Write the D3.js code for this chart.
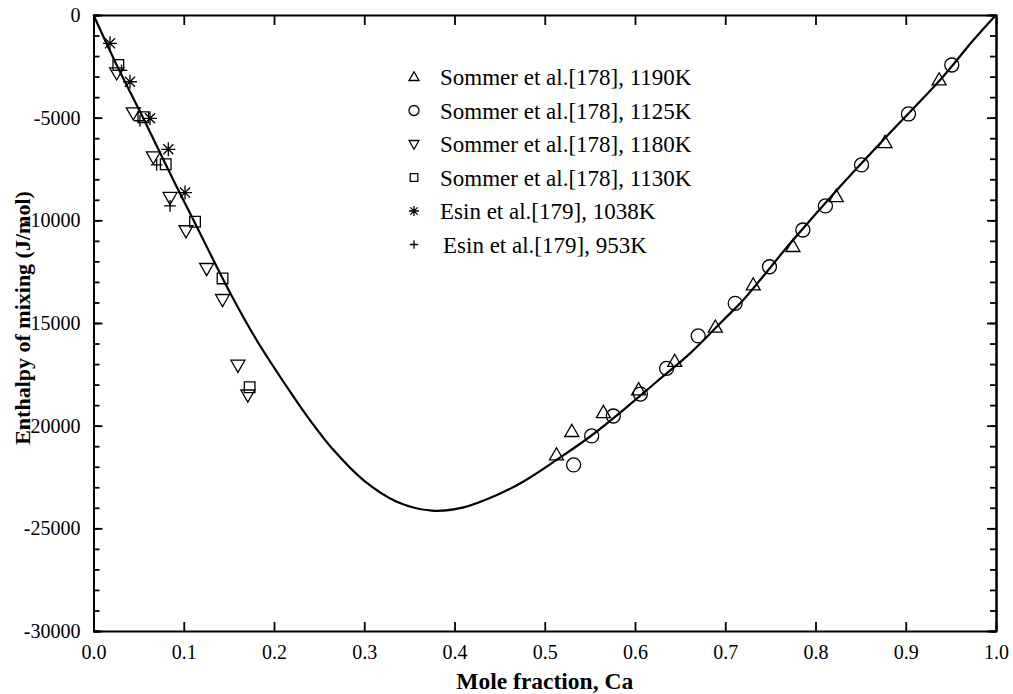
<!DOCTYPE html>
<html>
<head>
<meta charset="utf-8">
<script src="https://cdn.jsdelivr.net/npm/d3@7"></script>
<style>
  body { margin: 0; background: #fff; }
  svg { display: block; font-family: "Liberation Serif", "Times New Roman", serif; }
</style>
</head>
<body>
<div id="chart"></div>
<script>
// Enthalpy of mixing vs mole fraction Ca

// calculated curve
const curveX = [0, 0.0275, 0.056, 0.0884, 0.1125, 0.151, 0.181, 0.221, 0.236, 0.266, 0.299, 0.336, 0.375,
    0.41, 0.447, 0.476, 0.513, 0.55, 0.587, 0.624, 0.661, 0.698, 0.72, 0.772, 0.827, 0.882, 0.938, 0.975, 1.0];
const curveY = [0, -2600, -5100, -8040, -10140, -13500, -15850, -18550, -19500, -21190, -22650, -23700, -24140,
    -23980, -23380, -22730, -21670, -20540, -19240, -17860, -16480, -14850, -13880, -11120, -8360, -5760, -3170, -1220, 0];

// experimental points [x, H]
const sommer1190 = [[0.513, -21430], [0.530, -20290], [0.565, -19370], [0.604, -18260], [0.644, -16880],
    [0.689, -15210], [0.731, -13150], [0.775, -11280], [0.823, -8850], [0.877, -6220], [0.937, -3170]];
const sommer1125 = [[0.532, -21910], [0.552, -20500], [0.576, -19530], [0.606, -18460], [0.635, -17210],
    [0.670, -15630], [0.711, -14040], [0.749, -12260], [0.786, -10470], [0.811, -9300], [0.851, -7300],
    [0.903, -4820], [0.951, -2435]];
const sommer1180 = [[0.0257, -2810], [0.0441, -4760], [0.0663, -6900], [0.0848, -8880], [0.1025, -10500],
    [0.1254, -12340], [0.143, -13850], [0.160, -17050], [0.171, -18500]];
const sommer1130 = [[0.0275, -2435], [0.0552, -4980], [0.080, -7270], [0.1125, -10070], [0.143, -12830],
    [0.173, -18130]];
const esin1038 = [[0.0183, -1380], [0.0404, -3250], [0.0626, -5030], [0.0829, -6540], [0.1014, -8650]];
const esin953 = [[0.031, -2700], [0.0515, -5150], [0.070, -7300], [0.0848, -9300]];

const legendLabels = [
    'Sommer et al.[178], 1190K',
    'Sommer et al.[178], 1125K',
    'Sommer et al.[178], 1180K',
    'Sommer et al.[178], 1130K',
    'Esin et al.[179], 1038K',
    'Esin et al.[179], 953K'
];
const xTicks = [0, 0.1, 0.2, 0.3, 0.4, 0.5, 0.6, 0.7, 0.8, 0.9, 1.0];
const yTicks = [0, -5000, -10000, -15000, -20000, -25000, -30000];

const W = 1013, H = 694;
const margin = { top: 15, right: 17, bottom: 63, left: 93.5 };
const width = W - margin.left - margin.right;
const height = H - margin.top - margin.bottom;

const svg = d3.select('#chart').append('svg')
    .attr('width', W)
    .attr('height', H);

const g = svg.append('g')
    .attr('transform', `translate(${margin.left},${margin.top})`);

const x = d3.scaleLinear().domain([0, 1]).range([0, width]);
const y = d3.scaleLinear().domain([-30000, 0]).range([height, 0]);

// marker shapes
function marker(type, s) {
    const p = d3.path();
    if (type === 'up') {
        const h = s * 0.87;
        p.moveTo(0, -h * 0.6); p.lineTo(s / 2, h * 0.4); p.lineTo(-s / 2, h * 0.4); p.closePath();
    } else if (type === 'down') {
        const h = s * 0.87;
        p.moveTo(0, h * 0.6); p.lineTo(s / 2, -h * 0.4); p.lineTo(-s / 2, -h * 0.4); p.closePath();
    } else if (type === 'circle') {
        p.moveTo(s / 2, 0); p.arc(0, 0, s / 2, 0, Math.PI * 2);
    } else if (type === 'square') {
        const h = s * 0.38;
        p.rect(-h, -h, 2 * h, 2 * h);
    } else if (type === 'star') {
        const r = s / 2, d = r * 0.72;
        p.moveTo(0, -r); p.lineTo(0, r);
        p.moveTo(-r, 0); p.lineTo(r, 0);
        p.moveTo(-d, -d); p.lineTo(d, d);
        p.moveTo(-d, d); p.lineTo(d, -d);
    } else if (type === 'plus') {
        const r = s * 0.42;
        p.moveTo(0, -r); p.lineTo(0, r);
        p.moveTo(-r, 0); p.lineTo(r, 0);
    }
    return p.toString();
}

const series = [
    { data: sommer1190, type: 'up' },
    { data: sommer1125, type: 'circle' },
    { data: sommer1180, type: 'down' },
    { data: sommer1130, type: 'square' },
    { data: esin1038, type: 'star' },
    { data: esin953, type: 'plus' }
];

// axes
const axisStyle = sel => {
    sel.select('.domain').attr('stroke', '#000').attr('stroke-width', 2);
    sel.selectAll('.tick line').attr('stroke', '#000').attr('stroke-width', 1.8);
    sel.selectAll('text').attr('fill', '#000').attr('font-size', 20)
        .attr('font-family', '"Liberation Serif", serif');
};

const minorY = d3.range(-30000, 1, 1000);

g.append('g').call(d3.axisLeft(y).tickValues(minorY).tickSize(-6).tickFormat(''))
    .call(axisStyle);
g.append('g').call(d3.axisLeft(y).tickValues(yTicks).tickSize(-9).tickSizeOuter(0).tickPadding(13)
    .tickFormat(d => String(d)))
    .call(axisStyle);

g.append('g').attr('transform', `translate(${width},0)`)
    .call(d3.axisRight(y).tickValues(minorY).tickSize(-6).tickFormat(''))
    .call(axisStyle);
g.append('g').attr('transform', `translate(${width},0)`)
    .call(d3.axisRight(y).tickValues(yTicks).tickSize(-9).tickSizeOuter(0).tickFormat(''))
    .call(axisStyle);

g.append('g').attr('transform', `translate(0,${height})`)
    .call(d3.axisBottom(x).tickValues(xTicks).tickSize(-9).tickSizeOuter(0).tickPadding(14)
        .tickFormat(d3.format('.1f')))
    .call(axisStyle);
g.append('g')
    .call(d3.axisTop(x).tickValues(xTicks).tickSize(-10).tickSizeOuter(0).tickFormat(''))
    .call(axisStyle);

// axis titles
svg.append('text')
    .attr('x', margin.left + x(0.5))
    .attr('y', 689)
    .attr('text-anchor', 'middle')
    .attr('font-weight', 'bold')
    .attr('font-size', 23.5)
    .text('Mole fraction, Ca');

svg.append('text')
    .attr('transform', `translate(30,${margin.top + height / 2 - 5}) rotate(-90)`)
    .attr('text-anchor', 'middle')
    .attr('font-weight', 'bold')
    .attr('font-size', 22)
    .text('Enthalpy of mixing  (J/mol)');

// calculated curve
const line = d3.line()
    .x((d, i) => x(curveX[i]))
    .y(d => y(d))
    .curve(d3.curveCatmullRom.alpha(0.5));

g.append('path')
    .datum(curveY)
    .attr('fill', 'none')
    .attr('stroke', '#000')
    .attr('stroke-width', 2.2)
    .attr('d', line);

// experimental points
series.forEach(s => {
    g.append('g').selectAll('path')
        .data(s.data)
        .join('path')
        .attr('transform', d => `translate(${x(d[0])},${y(d[1])})`)
        .attr('d', marker(s.type, 14))
        .attr('fill', 'none')
        .attr('stroke', '#000')
        .attr('stroke-width', 1.3);
});

// legend
const legend = svg.append('g').attr('transform', 'translate(414,0)');
series.forEach((s, i) => {
    const by = 85 + i * 33.5;
    legend.append('path')
        .attr('transform', `translate(0,${by - 8})`)
        .attr('d', marker(s.type, 10))
        .attr('fill', 'none')
        .attr('stroke', '#000')
        .attr('stroke-width', 1.3);
    legend.append('text')
        .attr('x', i === 5 ? 29 : 26)
        .attr('y', by)
        .attr('font-size', 23)
        .text(legendLabels[i]);
});
</script>
</body>
</html>
